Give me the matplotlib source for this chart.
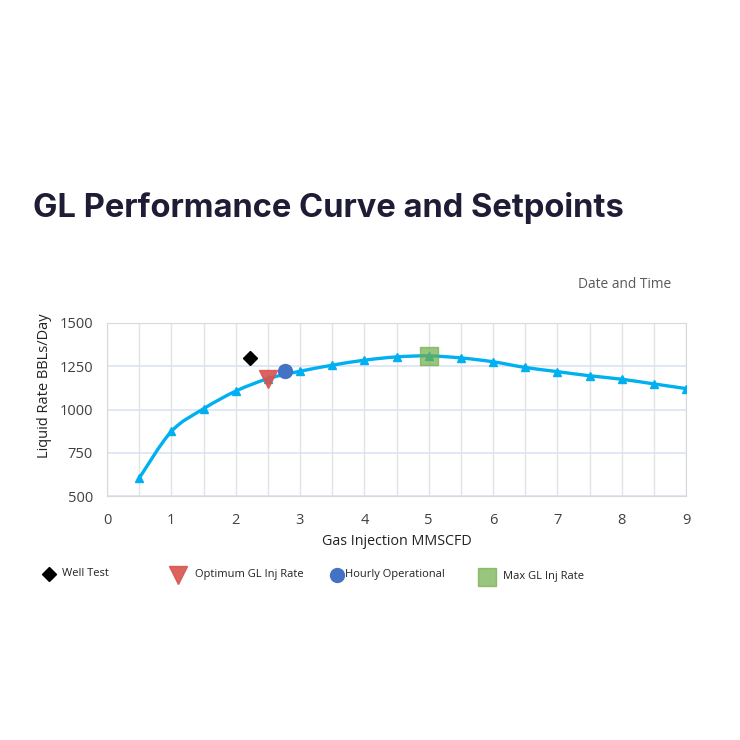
import matplotlib
matplotlib.use("Agg")
import numpy as np
import matplotlib.pyplot as plt
from matplotlib.path import Path
from matplotlib.patches import PathPatch

# performance curve
gas_inj = [0.5, 1, 1.5, 2, 2.5, 3, 3.5, 4, 4.5, 5, 5.5, 6, 6.5, 7, 7.5, 8, 8.5, 9]
liquid_rate = [603, 873, 1004, 1106, 1178, 1221, 1256, 1285, 1304, 1310, 1298, 1276,
               1243, 1219, 1195, 1175, 1148, 1121]

# setpoints
well_test = (2.22, 1300)
optimum = (2.5, 1176)
hourly = (2.77, 1221)
max_gl = (5.0, 1310)

legend_labels = ["Well Test", "Optimum GL Inj Rate", "Hourly Operational", "Max GL Inj Rate"]

line_col = "#00B0F0"
tick_font = "Open Sans"

fig = plt.figure(figsize=(7.4, 7.4), dpi=100)
ax = fig.add_axes([107 / 740, 1 - 496 / 740, (686 - 107) / 740, (496 - 323) / 740])

# smooth curve (catmull-rom -> cubic bezier, drawn by matplotlib path)
x = np.array(gas_inj, float)
y = np.array(liquid_rate, float)
verts = [(x[0], y[0])]
codes = [Path.MOVETO]
for i in range(len(x) - 1):
    p0 = (x[i - 1], y[i - 1]) if i > 0 else (x[i], y[i])
    p1 = (x[i], y[i])
    p2 = (x[i + 1], y[i + 1])
    p3 = (x[i + 2], y[i + 2]) if i + 2 < len(x) else p2
    c1 = (p1[0] + (p2[0] - p0[0]) / 6, p1[1] + (p2[1] - p0[1]) / 6)
    c2 = (p2[0] - (p3[0] - p1[0]) / 6, p2[1] - (p3[1] - p1[1]) / 6)
    verts += [c1, c2, p2]
    codes += [Path.CURVE4] * 3
ax.add_patch(PathPatch(Path(verts, codes), facecolor="none", edgecolor=line_col, lw=2.4, zorder=3))
ax.plot(gas_inj, liquid_rate, ls="none", marker="^", ms=6, color=line_col, zorder=4)

ax.plot(*well_test, marker="D", ms=7, color="black", ls="none", zorder=5)
ax.plot(*optimum, marker="v", ms=13, color="#D9534F", alpha=0.9, ls="none", zorder=5)
ax.plot(*hourly, marker="o", ms=10, color="#4472C4", ls="none", zorder=5)
ax.plot(*max_gl, marker="s", ms=13, color="#70AD47", alpha=0.7, ls="none", zorder=5)

ax.set_xlim(0, 9)
ax.set_ylim(500, 1500)
ax.set_xticks(range(0, 10))
ax.set_xticks(np.arange(0.5, 9, 1), minor=True)
ax.set_yticks([500, 750, 1000, 1250, 1500])
ax.grid(True, which="both", axis="x", color="#e3e3e3", lw=1)
ax.grid(True, which="major", axis="y", color="#dae3f3", lw=1.2)
ax.set_axisbelow(True)
for s in ax.spines.values():
    s.set_color("#d9d9d9")
ax.tick_params(which="both", length=0, labelsize=10.5, colors="#404040")
ax.tick_params(axis="x", pad=12)
ax.tick_params(axis="y", pad=10)
for lab in ax.get_xticklabels() + ax.get_yticklabels():
    lab.set_fontfamily(tick_font)
ax.set_xlabel("Gas Injection MMSCFD", fontsize=10.3, family=tick_font, color="#222222")
ax.set_ylabel("Liquid Rate BBLs/Day", fontsize=10.5, family=tick_font, color="#222222")
ax.xaxis.set_label_coords(0.5, -0.222)
ax.yaxis.set_label_coords(-0.095, 0.636)

fig.text(33 / 740, 1 - 208 / 740, "GL Performance Curve and Setpoints", fontsize=23.5,
         fontweight="bold", family="Inter", color="#1f1d36", va="center")
fig.text(671 / 740, 1 - 284 / 740, "Date and Time", fontsize=9.9, family=tick_font,
         color="#595959", ha="right", va="center")

# legend row
leg_ax = fig.add_axes([0, 0, 1, 1], facecolor="none")
leg_ax.set_xlim(0, 740)
leg_ax.set_ylim(740, 0)
leg_ax.axis("off")
leg_marks = [("D", 7, "black", 1.0), ("v", 13, "#D9534F", 0.9), ("o", 10, "#4472C4", 1.0),
             ("s", 13, "#70AD47", 0.7)]
leg_x = [49, 178, 337, 487]
leg_tx = [62, 195, 345, 503]
leg_y = [574, 575, 575, 577]
for (m, ms, c, a), mx, tx, ly, lab in zip(leg_marks, leg_x, leg_tx, leg_y, legend_labels):
    leg_ax.plot(mx, ly, marker=m, ms=ms, color=c, alpha=a, ls="none")
    leg_ax.text(tx, ly, lab, fontsize=8, family=tick_font, color="#222222", va="center")

fig.savefig("out.png", dpi=100, facecolor="white")
